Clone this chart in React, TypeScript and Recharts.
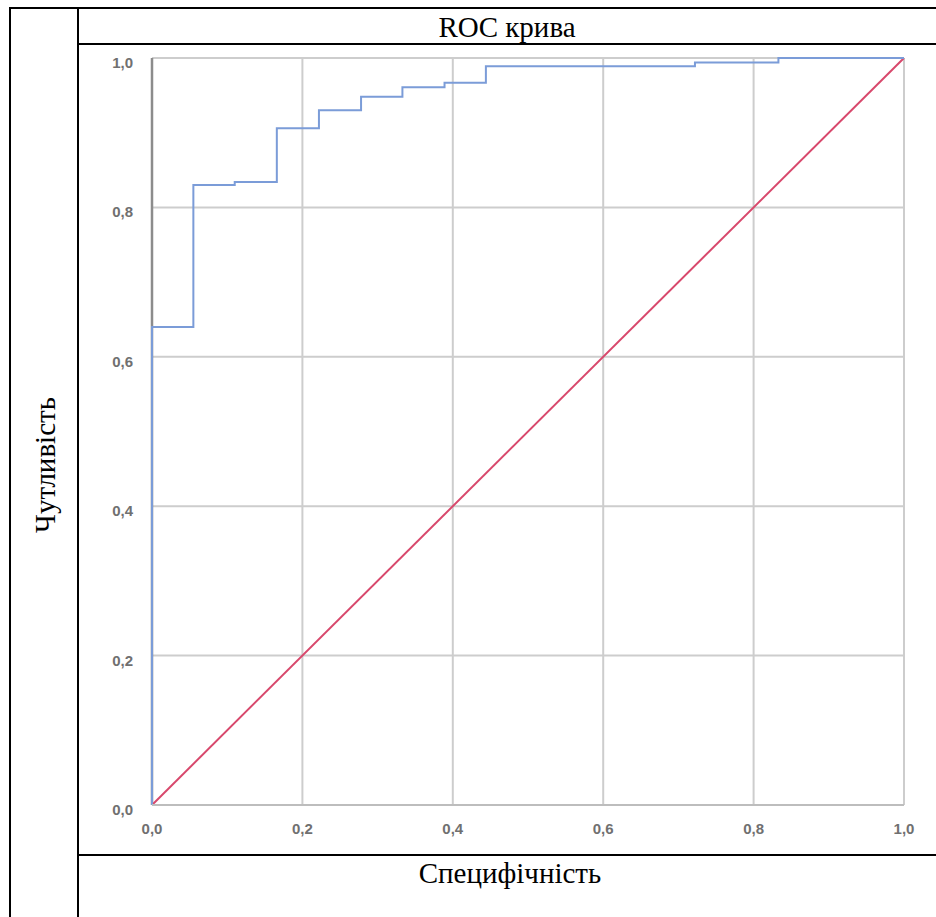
import { LineChart, Line, XAxis, YAxis, CartesianGrid, ReferenceLine } from "recharts";

// ROC curve corner points (1 - specificity, sensitivity), drawn as stepAfter
const rocX = [0, 0, 0.055, 0.11, 0.166, 0.222, 0.278, 0.333, 0.389, 0.444, 0.722, 0.833, 1.0];
const rocY = [0, 0.64, 0.83, 0.834, 0.906, 0.93, 0.948, 0.961, 0.967, 0.989, 0.994, 1.0, 1.0];

const refX = [0, 1];
const refY = [0, 1];

const ticks = [0, 0.2, 0.4, 0.6, 0.8, 1.0];

const title = "ROC крива";
const xTitle = "Специфічність";
const yTitle = "Чутливість";

const rocData = rocX.map((x, i) => ({ x, y: rocY[i] }));
const refData = refX.map((x, i) => ({ x, y: refY[i] }));

const fmt = (v: number) => v.toFixed(1).replace(".", ",");
const serif = "Liberation Serif, Times New Roman, serif";
const sans = "Liberation Sans, Arial, sans-serif";

const XTick = ({ x, y, payload }: any) => (
  <text x={x} y={y} dy={12} textAnchor="middle" fontSize={15} fontWeight={700} fontFamily={sans} fill="#707070">
    {fmt(payload.value)}
  </text>
);

const YTick = ({ x, y, payload }: any) => (
  <text x={x} y={y} dy={10} textAnchor="end" fontSize={15} fontWeight={700} fontFamily={sans} fill="#707070">
    {fmt(payload.value)}
  </text>
);

export default function App() {
  return (
    <div style={{ position: "absolute", left: 0, top: 0, width: 936, height: 917, background: "#fff" }}>
      <div style={{ position: "absolute", left: 79, top: 45, width: 857, height: 809 }}>
        <LineChart width={857} height={809} margin={{ top: 13, right: 32, left: 0, bottom: 0 }}>
          <CartesianGrid stroke="#cdcdcd" strokeWidth={2} />
          <XAxis
            type="number"
            dataKey="x"
            domain={[0, 1]}
            ticks={ticks}
            height={49}
            tickSize={0}
            tickMargin={17}
            tick={<XTick />}
            axisLine={{ stroke: "#bdbdbd", strokeWidth: 2 }}
            allowDuplicatedCategory={false}
          />
          <YAxis
            type="number"
            dataKey="y"
            domain={[0, 1]}
            ticks={ticks}
            width={73}
            tickSize={0}
            tickMargin={19}
            tick={<YTick />}
            axisLine={false}
          />
          <ReferenceLine x={0} stroke="#8c8c8c" strokeWidth={2.5} />
          <Line
            data={refData}
            dataKey="y"
            type="linear"
            stroke="#d8486c"
            strokeWidth={2}
            dot={false}
            isAnimationActive={false}
          />
          <Line
            data={rocData}
            dataKey="y"
            type="stepAfter"
            stroke="#7b9cd8"
            strokeWidth={2}
            dot={false}
            isAnimationActive={false}
          />
        </LineChart>
      </div>
      <svg width={936} height={917} style={{ position: "absolute", left: 0, top: 0, pointerEvents: "none" }}>
        <line x1={9} y1={8} x2={936} y2={8} stroke="#000" strokeWidth={2} />
        <line x1={10} y1={7} x2={10} y2={917} stroke="#000" strokeWidth={2} />
        <line x1={78} y1={7} x2={78} y2={917} stroke="#000" strokeWidth={2} />
        <line x1={77} y1={44} x2={936} y2={44} stroke="#000" strokeWidth={2} />
        <line x1={77} y1={855} x2={936} y2={855} stroke="#000" strokeWidth={2} />
        <text x={507} y={37} textAnchor="middle" fontFamily={serif} fontSize={29} fill="#000">
          {title}
        </text>
        <text x={510} y={883} textAnchor="middle" fontFamily={serif} fontSize={29} fill="#000">
          {xTitle}
        </text>
        <text x={0} y={0} transform="translate(55,465) rotate(-90)" textAnchor="middle" fontFamily={serif} fontSize={29} fill="#000">
          {yTitle}
        </text>
      </svg>
    </div>
  );
}
